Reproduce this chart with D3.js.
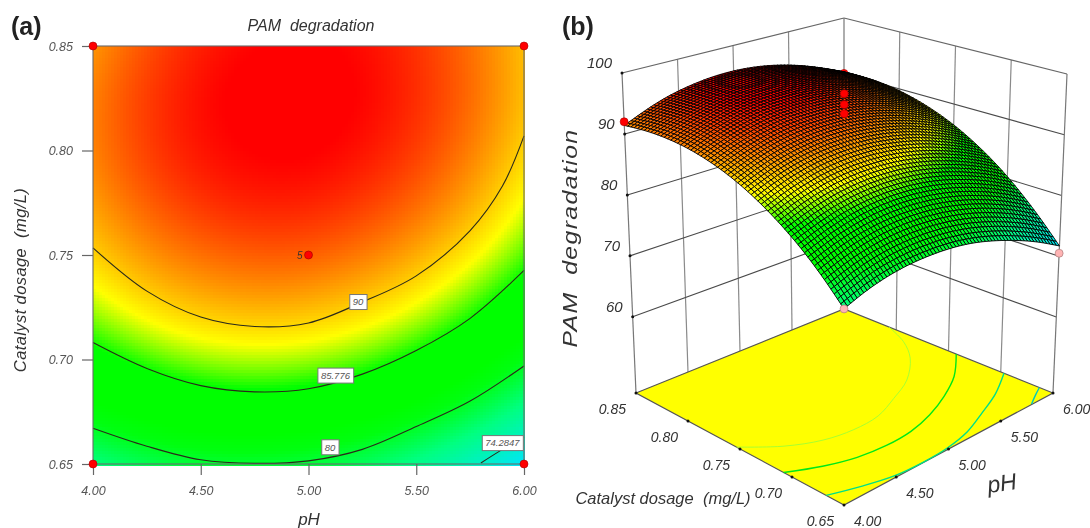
<!DOCTYPE html>
<html lang="en">

<head>
    <meta charset="UTF-8" />
    <script src="https://d3js.org/d3.v7.min.js"></script>
    <title>PAM degradation</title>
    <style>
        body { margin: 0; background: #fff; }
        svg { display: block; font-family: "Liberation Sans", Arial, sans-serif; filter: blur(0.35px); }
        text { font-style: italic; fill: #333; }
    </style>
</head>

<body>
    <svg width="1090" height="528"></svg>
</body>
<script>
    // values
    const pHValues = [4.0, 4.2, 4.4, 4.6, 4.8, 5.0, 5.2, 5.4, 5.6, 5.8, 6.0]
    const doseValues = [0.65, 0.67, 0.69, 0.71, 0.73, 0.75, 0.77, 0.79, 0.81, 0.83, 0.85]
    // one row per dose, one column per pH
    const response = [
        [77.0, 78.3, 79.1, 79.5, 79.5, 79.2, 78.5, 77.3, 75.8, 74.0, 71.7],
        [80.5, 81.7, 82.6, 83.0, 83.1, 82.8, 82.1, 81.1, 79.6, 77.8, 75.5],
        [83.5, 84.7, 85.6, 86.2, 86.3, 86.0, 85.4, 84.3, 82.9, 81.1, 78.9],
        [86.0, 87.3, 88.3, 88.8, 89.0, 88.8, 88.2, 87.2, 85.8, 84.1, 81.9],
        [88.1, 89.5, 90.5, 91.1, 91.3, 91.1, 90.5, 89.6, 88.2, 86.5, 84.4],
        [89.8, 91.2, 92.2, 92.8, 93.1, 93.0, 92.4, 91.5, 90.2, 88.6, 86.5],
        [91.0, 92.4, 93.5, 94.2, 94.5, 94.4, 93.9, 93.0, 91.8, 90.2, 88.1],
        [91.8, 93.3, 94.4, 95.1, 95.4, 95.4, 94.9, 94.1, 92.9, 91.3, 89.3],
        [92.1, 93.6, 94.8, 95.5, 95.9, 95.9, 95.5, 94.7, 93.6, 92.0, 90.1],
        [92.0, 93.6, 94.7, 95.6, 96.0, 96.0, 95.7, 94.9, 93.8, 92.3, 90.4],
        [91.4, 93.0, 94.3, 95.1, 95.6, 95.7, 95.4, 94.7, 93.6, 92.1, 90.3]
    ]

    // contour lines
    const contourLevels = ["90", "85.776", "80", "74.2847"]
    const contourPH = [
        [4, 4.25, 4.5, 4.75, 5, 5.25, 5.5, 5.75, 5.9, 6],
        [4, 4.25, 4.5, 4.75, 5, 5.25, 5.5, 5.75, 6],
        [4, 4.25, 4.5, 4.75, 5, 5.25, 5.5, 5.75, 6],
        [5.8, 5.9, 6]
    ]
    const contourDose = [
        [0.7534, 0.7327, 0.7203, 0.7158, 0.7175, 0.7275, 0.74, 0.7617, 0.783, 0.807],
        [0.7081, 0.6957, 0.6875, 0.6845, 0.686, 0.693, 0.7043, 0.7197, 0.7426],
        [0.6671, 0.6585, 0.652, 0.6503, 0.6515, 0.657, 0.6679, 0.6801, 0.6969],
        [0.6505, 0.657, 0.663]
    ]
    const labelPH = [5.23, 5.125, 5.10, 5.90]
    const labelDose = [0.7275, 0.6923, 0.658, 0.660]

    // design points [pH, dose, response]
    const redRuns = [[4, 0.85, 92], [5, 0.75, 94.5], [5, 0.75, 96], [5, 0.75, 97.8]]
    const hiddenRuns = [[6, 0.85, 90]]
    const pinkRuns = [[4, 0.65, 77], [6, 0.65, 70.5]]
    const cornerPH = [4, 6, 4, 6]
    const cornerDose = [0.85, 0.85, 0.65, 0.65]

    const pHTicks = [4, 4.5, 5, 5.5, 6]
    const doseTicks = [0.65, 0.7, 0.75, 0.8, 0.85]
    const zTicks = [60, 70, 80, 90, 100]

    const colorValues = [71.5, 77, 80.5, 82, 85.5, 88.5, 95.5]
    const colorNames = ["#00e4ff", "#00ff80", "#00ff10", "#00ff00", "#00ff00", "#ffff00", "#ff0000"]
    const floorLineColors = ["#a8ff30", "#00e818", "#00e088", "#00c8c0"]

    const color = d3.scaleLinear().domain(colorValues).range(colorNames).clamp(true)

    const svg = d3.select("svg")

    // smooth reading of the response table at a pH column
    const pHt = d3.scaleLinear().domain([4, 6]).range([0, 1])
    const doset = d3.scaleLinear().domain([0.65, 0.85]).range([0, 1])
    const rowCurves = response.map(r => d3.interpolateBasis(r))
    const columnAt = ph => d3.interpolateBasis(rowCurves.map(f => f(pHt(ph))))

    // ---------- (a) contour plot ----------
    const x = d3.scaleLinear().domain([4, 6]).range([93, 524])
    const y = d3.scaleLinear().domain([0.65, 0.85]).range([464, 46])
    const cell = 3

    const cells = []
    for (let px = x(4); px < x(6); px += cell) {
        const col = columnAt(x.invert(px + cell / 2))
        for (let py = y(0.85); py < y(0.65); py += cell) {
            cells.push({ px, py, v: col(doset(y.invert(py + cell / 2))) })
        }
    }
    const a = svg.append("g")
    a.append("g").attr("shape-rendering", "crispEdges").selectAll("rect").data(cells).join("rect")
        .attr("x", d => d.px).attr("y", d => d.py)
        .attr("width", cell).attr("height", cell)
        .attr("fill", d => color(d.v))

    const contourRows = contourLevels.map((level, k) => contourPH[k].map((p, i) => [p, contourDose[k][i]]))
    const line2d = d3.line().x(d => x(d[0])).y(d => y(d[1])).curve(d3.curveCatmullRom)
    a.append("g").selectAll("path").data(contourRows).join("path")
        .attr("d", line2d).attr("fill", "none").attr("stroke", "#2a2a1a").attr("stroke-width", 1.1)

    a.append("rect").attr("x", x(4)).attr("y", y(0.85)).attr("width", x(6) - x(4)).attr("height", y(0.65) - y(0.85))
        .attr("fill", "none").attr("stroke", "#6a6a6a").attr("stroke-width", 1.1)

    const xAxis = a.append("g").attr("transform", `translate(0,${y(0.65)})`)
        .call(d3.axisBottom(x).tickValues(pHTicks).tickFormat(d3.format(".2f")).tickSize(11).tickPadding(11))
    const yAxis = a.append("g").attr("transform", `translate(${x(4)},0)`)
        .call(d3.axisLeft(y).tickValues(doseTicks).tickFormat(d3.format(".2f")).tickSize(11).tickPadding(9))
    xAxis.call(g => g.select(".domain").remove())
    yAxis.call(g => g.select(".domain").remove())
    a.selectAll(".tick line").attr("stroke", "#666").attr("stroke-width", 1.2)
    a.selectAll(".tick text").attr("font-size", 12.5).attr("font-family", "Liberation Sans").style("fill", "#555")

    // contour labels
    contourLevels.forEach((level, k) => {
        const g = a.append("g").attr("transform", `translate(${x(labelPH[k])},${y(labelDose[k])})`)
        const t = g.append("text").attr("text-anchor", "middle").attr("dy", "0.35em")
            .attr("font-size", 9.5).style("fill", "#555").text(level)
        const b = t.node().getBBox()
        g.insert("rect", "text").attr("x", b.x - 3).attr("y", -7.5).attr("width", b.width + 6).attr("height", 15)
            .attr("fill", "#fff").attr("stroke", "#777").attr("stroke-width", 1)
    })

    a.append("g").selectAll("circle").data(cornerPH).join("circle")
        .attr("cx", d => x(d)).attr("cy", (d, i) => y(cornerDose[i])).attr("r", 4)
        .attr("fill", "#f00").attr("stroke", "#a00").attr("stroke-width", 0.6)
    a.append("circle").attr("cx", x(5)).attr("cy", y(0.75)).attr("r", 4)
        .attr("fill", "#f00").attr("stroke", "#900").attr("stroke-width", 0.6)
    a.append("text").attr("x", x(5) - 6).attr("y", y(0.75) + 3.5).attr("text-anchor", "end").attr("font-size", 10).text("5")

    a.append("text").attr("x", 311).attr("y", 31).attr("text-anchor", "middle").attr("font-size", 16).style("white-space", "pre").text("PAM  degradation")
    a.append("text").attr("x", 309).attr("y", 525).attr("text-anchor", "middle").attr("font-size", 17).text("pH")
    a.append("text").attr("transform", "translate(26,280) rotate(-90)").attr("text-anchor", "middle").attr("font-size", 16.5).attr("letter-spacing", 0.4).style("white-space", "pre").text("Catalyst dosage  (mg/L)")

    // ---------- (b) surface plot ----------
    const zt = d3.scaleLinear().domain([47.5, 100]).range([0, 1])
    // screen position of the box corners, order: front, left, right, back
    const floorX = [844, 636, 1053, 844]
    const floorY = [505, 393, 393, 309]
    const topX = [844, 622, 1067, 844]
    const topY = [156, 73, 74, 18]
    const mix = (c, p, d) => (1 - p) * (1 - d) * c[0] + (1 - p) * d * c[1] + p * (1 - d) * c[2] + p * d * c[3]
    const project = (ph, dose, z) => {
        const p = pHt(ph), d = doset(dose), h = zt(z)
        return [
            mix(floorX, p, d) * (1 - h) + mix(topX, p, d) * h,
            mix(floorY, p, d) * (1 - h) + mix(topY, p, d) * h
        ]
    }
    const floorZ = 47.5
    const b = svg.append("g")
    const seg = (g, p0, p1, stroke, w) => g.append("line")
        .attr("x1", p0[0]).attr("y1", p0[1]).attr("x2", p1[0]).attr("y2", p1[1])
        .attr("stroke", stroke).attr("stroke-width", w)

    // walls
    const walls = b.append("g")
    pHTicks.slice(1, 4).forEach(ph => seg(walls, project(ph, 0.85, floorZ), project(ph, 0.85, 100), "#8a8a8a", 1.2))
    doseTicks.slice(1, 4).forEach(d => seg(walls, project(6, d, floorZ), project(6, d, 100), "#8a8a8a", 1.2))
    zTicks.slice(0, 4).forEach(z => {
        seg(walls, project(4, 0.85, z), project(6, 0.85, z), "#4a4a4a", 1.1)
        seg(walls, project(6, 0.85, z), project(6, 0.65, z), "#4a4a4a", 1.1)
    })
    seg(walls, project(4, 0.85, 100), project(6, 0.85, 100), "#666", 1.2)
    seg(walls, project(6, 0.85, 100), project(6, 0.65, 100), "#666", 1.2)
    seg(walls, project(4, 0.85, floorZ), project(4, 0.85, 100), "#777", 1.2)
    seg(walls, project(6, 0.85, floorZ), project(6, 0.85, 100), "#777", 1.2)
    seg(walls, project(6, 0.65, floorZ), project(6, 0.65, 100), "#777", 1.2)

    // floor with contour lines
    const floorCorners = [[4, 0.65], [4, 0.85], [6, 0.85], [6, 0.65]]
    const floorLine = d3.line().x(d => project(d[0], d[1], floorZ)[0]).y(d => project(d[0], d[1], floorZ)[1])
    b.append("path").attr("d", floorLine(floorCorners) + "Z").attr("fill", "#ffff00").attr("stroke", "#555").attr("stroke-width", 1.2)
    b.append("g").selectAll("path").data(contourRows).join("path")
        .attr("d", floorLine.curve(d3.curveCatmullRom))
        .attr("fill", "none").attr("stroke", (d, i) => floorLineColors[i]).attr("stroke-width", (d, i) => i == 0 ? 1 : 1.4)

    // floor ticks
    const tickDots = [
        ...doseTicks.map(d => project(4, d, floorZ)),
        ...pHTicks.slice(1).map(p => project(p, 0.65, floorZ)),
        ...zTicks.map(z => project(4, 0.85, z))
    ]
    b.append("g").selectAll("circle").data(tickDots).join("circle")
        .attr("cx", d => d[0]).attr("cy", d => d[1]).attr("r", 1.5).attr("fill", "#111")

    const dot = (g, run, fill, stroke) => {
        const q = project(run[0], run[1], run[2])
        g.append("circle").attr("cx", q[0]).attr("cy", q[1]).attr("r", 4).attr("fill", fill).attr("stroke", stroke).attr("stroke-width", 0.6)
    }
    hiddenRuns.forEach(r => dot(b, r, "#f00", "#a00"))

    // surface mesh, painted from the back corner to the front
    const meshSize = 66
    const meshPH = d3.range(meshSize + 1).map(i => 4 + 2 * i / meshSize)
    const meshDose = d3.range(meshSize + 1).map(j => 0.65 + 0.2 * j / meshSize)
    const meshZ = meshPH.map(ph => {
        const col = columnAt(ph)
        return meshDose.map(d => col(doset(d)))
    })
    const quads = []
    for (let i = meshSize - 1; i >= 0; i--) {
        for (let j = meshSize - 1; j >= 0; j--) {
            quads.push({ i, j, v: (meshZ[i][j] + meshZ[i + 1][j] + meshZ[i][j + 1] + meshZ[i + 1][j + 1]) / 4 })
        }
    }
    const quadPath = d3.line()
    b.append("g").selectAll("path").data(quads).join("path")
        .attr("d", q => quadPath([
            project(meshPH[q.i], meshDose[q.j], meshZ[q.i][q.j]),
            project(meshPH[q.i + 1], meshDose[q.j], meshZ[q.i + 1][q.j]),
            project(meshPH[q.i + 1], meshDose[q.j + 1], meshZ[q.i + 1][q.j + 1]),
            project(meshPH[q.i], meshDose[q.j + 1], meshZ[q.i][q.j + 1])
        ]) + "Z")
        .attr("fill", q => color(q.v))
        .attr("stroke", "#000").attr("stroke-width", 0.9)

    redRuns.forEach(r => dot(b, r, "#f00", "#a00"))
    pinkRuns.forEach(r => dot(b, r, "#ffb4b4", "#a07070"))

    // box labels
    zTicks.forEach(z => {
        const q = project(4, 0.85, z)
        b.append("text").attr("x", q[0] - 10).attr("y", q[1] - 5).attr("text-anchor", "end").attr("font-size", 15).text(z)
    })
    doseTicks.forEach(d => {
        const q = project(4, d, floorZ)
        b.append("text").attr("x", q[0] - 10).attr("y", q[1] + 21).attr("text-anchor", "end").attr("font-size", 14).text(d3.format(".2f")(d))
    })
    pHTicks.forEach(p => {
        const q = project(p, 0.65, floorZ)
        b.append("text").attr("x", q[0] + 10).attr("y", q[1] + 21).attr("text-anchor", "start").attr("font-size", 14).text(d3.format(".2f")(p))
    })
    b.append("text").attr("transform", "translate(577,238) rotate(-90) scale(1.18,1)").attr("text-anchor", "middle").attr("font-size", 21).attr("letter-spacing", 1.2).style("white-space", "pre").text("PAM  degradation")
    b.append("text").attr("x", 663).attr("y", 504).attr("text-anchor", "middle").attr("font-size", 16.5).style("white-space", "pre").text("Catalyst dosage  (mg/L)")
    b.append("text").attr("transform", "translate(1003,491) rotate(-8)").attr("text-anchor", "middle").attr("font-size", 23).text("pH")

    svg.append("text").attr("x", 11).attr("y", 35).attr("font-size", 25).attr("font-weight", "bold").style("font-style", "normal").style("fill", "#222").text("(a)")
    svg.append("text").attr("x", 562).attr("y", 35).attr("font-size", 25).attr("font-weight", "bold").style("font-style", "normal").style("fill", "#222").text("(b)")
</script>

</html>
